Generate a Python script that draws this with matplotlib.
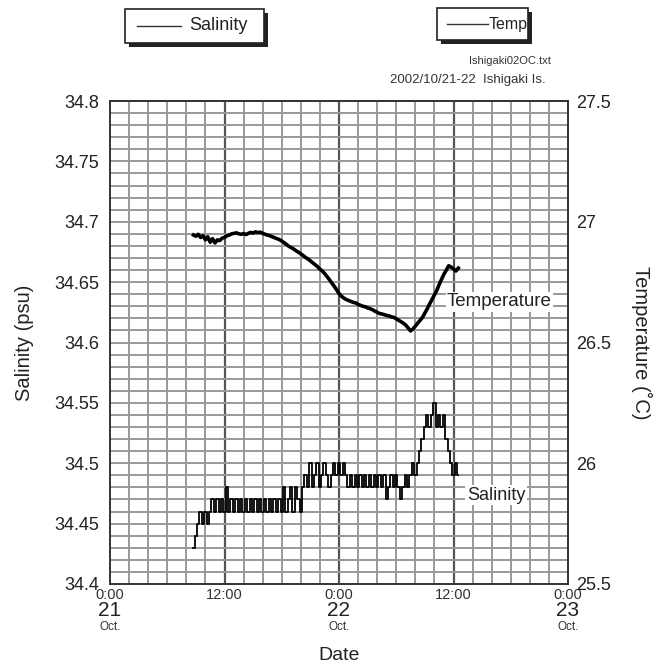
import numpy as np
import matplotlib
matplotlib.use('Agg')
from matplotlib import pyplot as plt
from matplotlib.patches import Rectangle
from matplotlib.lines import Line2D
from matplotlib.transforms import blended_transform_factory

plt.rcParams['font.family'] = ['Liberation Sans', 'DejaVu Sans']

# hours since 21 Oct 0:00, sampled every 15 min
t0 = 8.75
dt = 0.25

salinity = [34.43, 34.44, 34.45, 34.46, 34.45, 34.46, 34.45, 34.46, 34.47, 34.46,
            34.47, 34.46, 34.47, 34.46, 34.48, 34.46, 34.47, 34.46, 34.47, 34.46,
            34.47, 34.46, 34.47, 34.46, 34.47, 34.46, 34.47, 34.46, 34.47, 34.46,
            34.47, 34.46, 34.47, 34.46, 34.47, 34.46, 34.47, 34.46, 34.48, 34.46,
            34.47, 34.48, 34.46, 34.48, 34.47, 34.46, 34.48, 34.49, 34.48, 34.50,
            34.48, 34.49, 34.50, 34.48, 34.49, 34.50, 34.49, 34.48, 34.49, 34.50,
            34.49, 34.50, 34.49, 34.50, 34.49, 34.48, 34.49, 34.48, 34.49, 34.48,
            34.49, 34.48, 34.49, 34.48, 34.49, 34.48, 34.49, 34.48, 34.49, 34.48,
            34.49, 34.47, 34.48, 34.49, 34.48, 34.49, 34.48, 34.47, 34.48, 34.49,
            34.48, 34.49, 34.50, 34.49, 34.50, 34.51, 34.52, 34.53, 34.54, 34.53,
            34.54, 34.55, 34.53, 34.54, 34.53, 34.54, 34.52, 34.51, 34.50, 34.49,
            34.50, 34.49]

temperature = [26.945, 26.940, 26.948, 26.935, 26.942, 26.925, 26.938, 26.915, 26.930, 26.912,
               26.925, 26.922, 26.932, 26.935, 26.942, 26.945, 26.950, 26.952, 26.954, 26.950,
               26.948, 26.951, 26.947, 26.952, 26.956, 26.953, 26.958, 26.955, 26.957, 26.952,
               26.948, 26.945, 26.942, 26.938, 26.934, 26.930, 26.926, 26.920, 26.913, 26.906,
               26.898, 26.893, 26.887, 26.880, 26.874, 26.867, 26.860, 26.852, 26.846, 26.838,
               26.830, 26.822, 26.814, 26.804, 26.796, 26.785, 26.773, 26.760, 26.746, 26.733,
               26.718, 26.703, 26.692, 26.684, 26.678, 26.674, 26.670, 26.666, 26.664, 26.658,
               26.654, 26.650, 26.648, 26.643, 26.640, 26.636, 26.630, 26.625, 26.620, 26.618,
               26.615, 26.612, 26.610, 26.606, 26.604, 26.598, 26.592, 26.586, 26.580, 26.572,
               26.560, 26.548, 26.556, 26.568, 26.580, 26.592, 26.604, 26.622, 26.640, 26.660,
               26.678, 26.697, 26.716, 26.740, 26.762, 26.783, 26.800, 26.818, 26.812, 26.805,
               26.796, 26.808]

sal_ticks = [34.4, 34.45, 34.5, 34.55, 34.6, 34.65, 34.7, 34.75, 34.8]
sal_ticklabels = ['34.4', '34.45', '34.5', '34.55', '34.6', '34.65', '34.7', '34.75', '34.8']
temp_ticks = [25.5, 26, 26.5, 27, 27.5]
temp_ticklabels = ['25.5', '26', '26.5', '27', '27.5']
day_ticks = [0, 24, 48]
day_labels = ['21', '22', '23']
noon_ticks = [12, 36]

t_sal = t0 + dt * np.arange(len(salinity))
t_temp = t0 + dt * np.arange(len(temperature))

W, H = 665, 667
fig = plt.figure(figsize=(W / 100, H / 100), dpi=100)
ax = fig.add_axes([110 / W, 1 - 584 / H, 458 / W, 483 / H])


def fx(x, y):
    return (x / W, 1 - y / H)


# grid
for h in np.arange(2, 48, 2):
    if h % 12 == 0:
        ax.axvline(h, color='#555555', lw=1.6, zorder=1)
    else:
        ax.axvline(h, color='#999999', lw=1.4, zorder=1)
for s in np.arange(34.41, 34.8, 0.01):
    ax.axhline(s, color='#999999', lw=1.4, zorder=1)

ax.plot(t_sal, salinity, color='black', lw=1.3, drawstyle='steps-mid', zorder=3)
ax.set_xlim(0, 48)
ax.set_ylim(34.4, 34.8)
ax.set_yticks(sal_ticks)
ax.set_yticklabels(sal_ticklabels, fontsize=13, color='#222222')
ax.set_xticks([])
ax.tick_params(axis='y', length=0, pad=8)
ax.set_ylabel('Salinity (psu)', fontsize=14.5, color='#222222', labelpad=14)

ax2 = ax.twinx()
ax2.plot(t_temp, temperature, color='black', lw=2.6, zorder=3)
ax2.set_ylim(25.5, 27.5)
ax2.set_yticks(temp_ticks)
ax2.set_yticklabels(temp_ticklabels, fontsize=13, color='#222222')
ax2.tick_params(axis='y', length=0, pad=6)
ax2.set_ylabel('Temperature (\u02daC)', fontsize=14.5, color='#222222', rotation=-90, labelpad=29)

for a in (ax, ax2):
    for sp in a.spines.values():
        sp.set_color('#333333')
        sp.set_linewidth(1.2)

# x axis labels
trans = blended_transform_factory(ax.transData, fig.transFigure)
for h, d in zip(day_ticks, day_labels):
    ax.text(h, 1 - 595 / H, '0:00', transform=trans, ha='center', va='center', fontsize=10.5, color='#333333')
    ax.text(h, 1 - 610 / H, d, transform=trans, ha='center', va='center', fontsize=15, color='#222222')
    ax.text(h, 1 - 627 / H, 'Oct.', transform=trans, ha='center', va='center', fontsize=8.5, color='#333333')
for h in noon_ticks:
    ax.text(h, 1 - 595 / H, '12:00', transform=trans, ha='center', va='center', fontsize=10.5, color='#333333')
fig.text(*fx(339, 656), 'Date', ha='center', va='center', fontsize=14, color='#222222')

# in-plot labels
ax2.text(35.3, 26.668, 'Temperature', ha='left', va='center', fontsize=13.5, color='#222222',
         bbox=dict(facecolor='white', edgecolor='none', pad=1), zorder=5)
ax2.text(37.4, 25.868, 'Salinity', ha='left', va='center', fontsize=13, color='#222222',
         bbox=dict(facecolor='white', edgecolor='none', pad=1), zorder=5)


# legend boxes drawn on figure
def legend_box(x0, y0, x1, y1, lx0, lx1, label, tx, size):
    fig.patches.append(Rectangle(fx(x0 + 4, y1 + 4), (x1 - x0) / W, (y1 - y0) / H,
                                 transform=fig.transFigure, facecolor='#222222', edgecolor='none'))
    fig.patches.append(Rectangle(fx(x0, y1), (x1 - x0) / W, (y1 - y0) / H,
                                 transform=fig.transFigure, facecolor='white', edgecolor='#222222', lw=1.2))
    ym = (y0 + y1) / 2
    fig.lines.append(Line2D([lx0 / W, lx1 / W], [1 - ym / H, 1 - ym / H],
                            transform=fig.transFigure, color='#333333', lw=1))
    fig.text(*fx(tx, ym), label, ha='left', va='center', fontsize=size, color='#222222')


legend_box(125, 9, 264, 43, 137, 181, 'Salinity', 189, 13)
legend_box(437, 8, 528, 40, 447, 488, 'Temp', 489, 11.5)

fig.text(*fx(510, 61), 'Ishigaki02OC.txt', ha='center', va='center', fontsize=8, color='#333333')
fig.text(*fx(468, 80), '2002/10/21-22  Ishigaki Is.', ha='center', va='center', fontsize=9.5, color='#333333')

fig.savefig('out.png', dpi=100)
